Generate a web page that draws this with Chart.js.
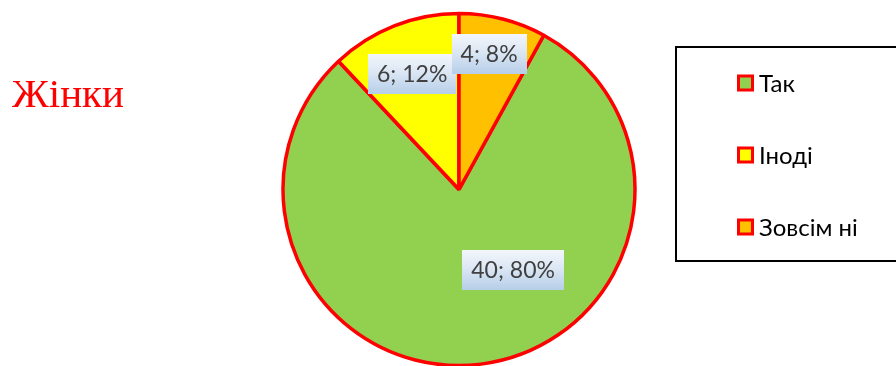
<!DOCTYPE html>
<html>
<head>
<meta charset="utf-8">
<title>Жінки</title>
<script src="https://cdn.jsdelivr.net/npm/chart.js@4.4.1/dist/chart.umd.min.js"></script>
<style>
  html, body { margin: 0; padding: 0; background: #ffffff; }
  #wrap { position: relative; width: 896px; height: 366px; overflow: hidden; }
  canvas { display: block; }
</style>
</head>
<body>
<div id="wrap"><canvas id="pie" width="896" height="366"></canvas></div>
<script>
// Survey answers (women)
const title = 'Жінки';
const categories = ['Так', 'Іноді', 'Зовсім ні'];
const counts = [40, 6, 4];
const sliceColors = ['#92d050', '#ffff00', '#ffc000'];

const total = counts.reduce((a, b) => a + b, 0);

// Title drawn at the left side of the canvas
const titlePlugin = {
  id: 'sideTitle',
  afterDraw(chart, args, opts) {
    const ctx = chart.ctx;
    ctx.save();
    ctx.font = opts.font;
    ctx.fillStyle = opts.color;
    ctx.textBaseline = 'alphabetic';
    ctx.textAlign = 'left';
    ctx.fillText(opts.text, opts.x, opts.y);
    ctx.restore();
  }
};

// Value labels in gradient boxes, placed in polar coordinates around the pie centre
const valueLabels = {
  id: 'valueLabels',
  afterDatasetsDraw(chart, args, opts) {
    const ctx = chart.ctx;
    const meta = chart.getDatasetMeta(0);
    const data = chart.data.datasets[0].data;
    ctx.save();
    ctx.font = opts.font;
    meta.data.forEach((arc, i) => {
      const place = opts.placement[i];
      const a = (place.angle - 90) * Math.PI / 180;
      const r = arc.outerRadius * place.radius;
      const cx = arc.x + Math.cos(a) * r;
      const cy = arc.y + Math.sin(a) * r;
      const pct = Math.round(data[i] / total * 100);
      const text = data[i] + '; ' + pct + '%';
      const w = ctx.measureText(text).width + opts.padX * 2;
      const h = opts.boxH;
      const x0 = Math.round(cx - w / 2), y0 = Math.round(cy - h / 2);
      const g = ctx.createLinearGradient(0, y0, 0, y0 + h);
      g.addColorStop(0, '#f3f6fb');
      g.addColorStop(0.45, '#dce7f4');
      g.addColorStop(1, '#b6cee9');
      ctx.fillStyle = g;
      ctx.fillRect(x0, y0, Math.round(w), h);
      ctx.fillStyle = '#404040';
      ctx.textAlign = 'center';
      ctx.textBaseline = 'middle';
      ctx.fillText(text, cx, cy + 1);
    });
    ctx.restore();
  }
};

// Framed legend at the right, partly running past the canvas edge
const boxLegend = {
  id: 'boxLegend',
  afterDraw(chart, args, opts) {
    const ctx = chart.ctx;
    const ds = chart.data.datasets[0];
    ctx.save();
    ctx.strokeStyle = '#000000';
    ctx.lineWidth = 2;
    ctx.strokeRect(opts.x, opts.y, opts.w, opts.h);
    ctx.font = opts.font;
    ctx.textBaseline = 'middle';
    ctx.textAlign = 'left';
    chart.data.labels.forEach((label, i) => {
      const cy = opts.rowY[i];
      const s = opts.marker;
      ctx.fillStyle = ds.borderColor;
      ctx.fillRect(opts.markerX, cy - s / 2, s, s);
      ctx.fillStyle = ds.backgroundColor[i];
      ctx.fillRect(opts.markerX + 3, cy - s / 2 + 3, s - 6, s - 6);
      ctx.fillStyle = '#000000';
      ctx.fillText(label, opts.markerX + s + 5, cy + 1);
    });
    ctx.restore();
  }
};

new Chart(document.getElementById('pie'), {
  type: 'pie',
  data: {
    labels: categories,
    datasets: [{
      data: counts,
      backgroundColor: sliceColors,
      borderColor: '#ff0000',
      borderWidth: 3.5
    }]
  },
  options: {
    responsive: false,
    devicePixelRatio: 1,
    animation: false,
    rotation: 28.8,
    radius: 176,
    layout: { padding: { left: 283, right: 261, top: 13, bottom: 0 } },
    plugins: {
      legend: { display: false },
      tooltip: { enabled: false },
      title: { display: false },
      sideTitle: {
        text: title,
        font: '41px "Liberation Serif", "Times New Roman", serif',
        color: '#ff0000',
        x: 12,
        y: 107
      },
      valueLabels: {
        font: '23px Lato, "Noto Sans", sans-serif',
        padX: 9,
        boxH: 40,
        placement: [
          { angle: 146, radius: 0.55 },
          { angle: 338, radius: 0.71 },
          { angle: 12.5, radius: 0.79 }
        ]
      },
      boxLegend: {
        x: 676, y: 47, w: 260, h: 214,
        font: '24px Lato, "Noto Sans", sans-serif',
        markerX: 737, marker: 17,
        rowY: [83, 155, 227]
      }
    }
  },
  plugins: [titlePlugin, valueLabels, boxLegend]
});
</script>
</body>
</html>
